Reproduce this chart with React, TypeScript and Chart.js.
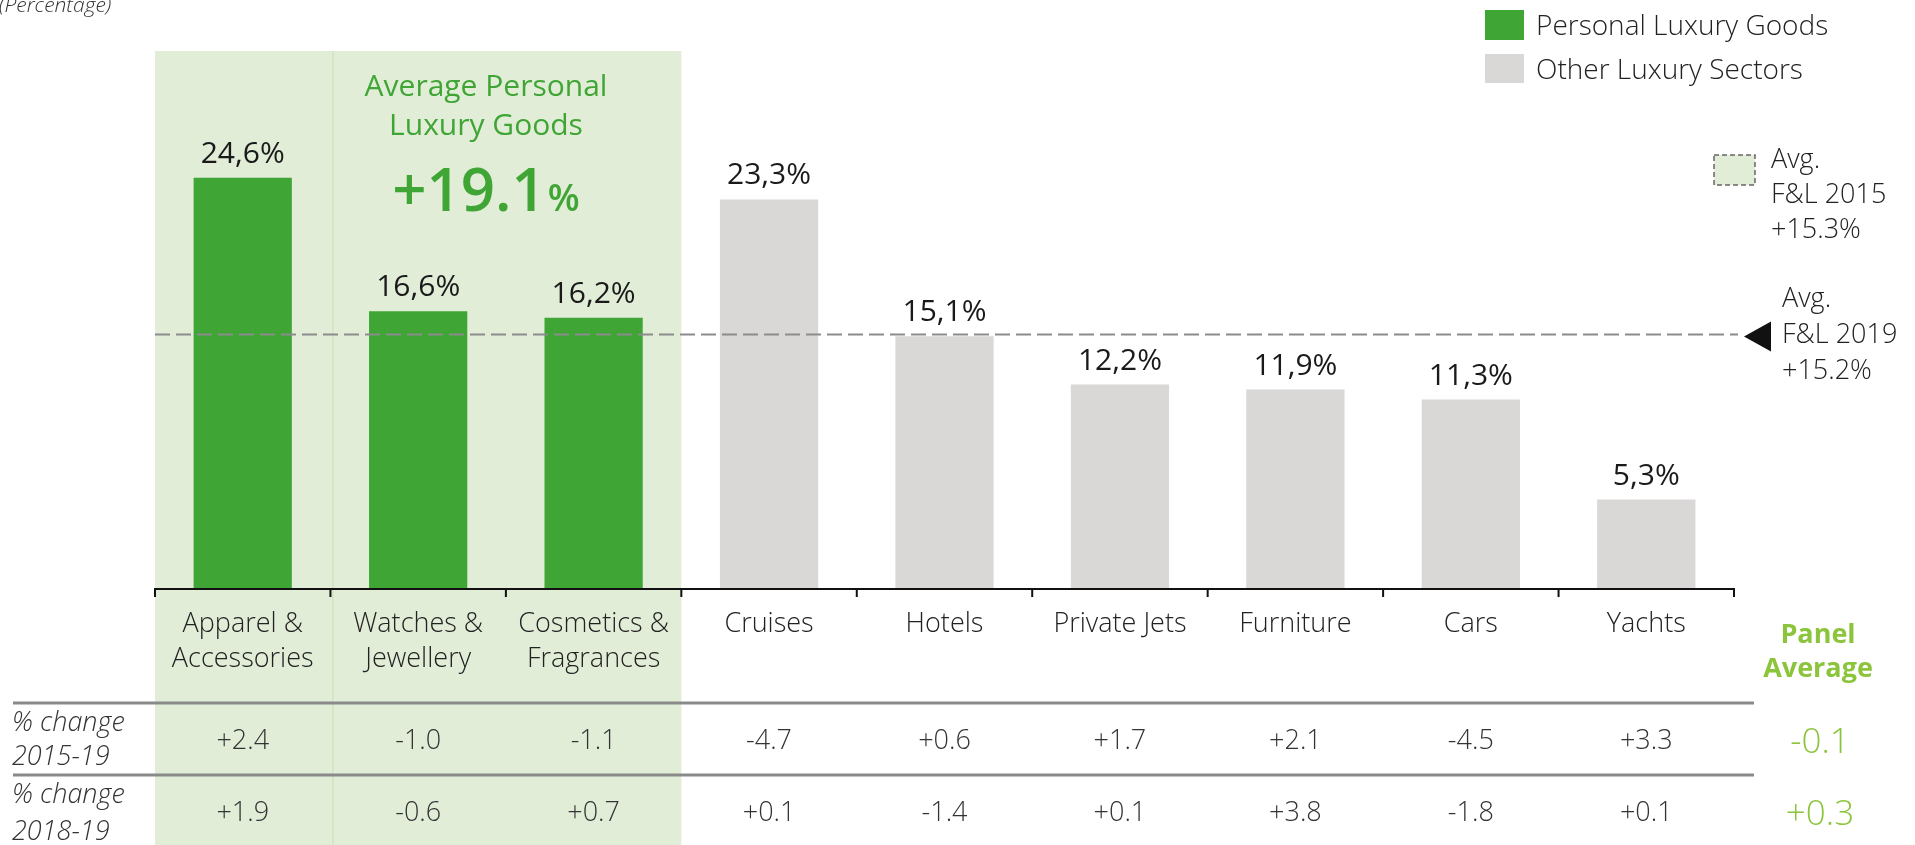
import React, { useEffect, useRef } from "react";
import { Chart, registerables } from "chart.js";

Chart.register(...registerables);

const categories: string[][] = [
  ["Apparel &", "Accessories"],
  ["Watches &", "Jewellery"],
  ["Cosmetics &", "Fragrances"],
  ["Cruises"],
  ["Hotels"],
  ["Private Jets"],
  ["Furniture"],
  ["Cars"],
  ["Yachts"],
];
const values: number[] = [24.6, 16.6, 16.2, 23.3, 15.1, 12.2, 11.9, 11.3, 5.3];
const isPersonal: boolean[] = [true, true, true, false, false, false, false, false, false];
const change2015: string[] = ["+2.4", "-1.0", "-1.1", "-4.7", "+0.6", "+1.7", "+2.1", "-4.5", "+3.3"];
const change2018: string[] = ["+1.9", "-0.6", "+0.7", "+0.1", "-1.4", "+0.1", "+3.8", "-1.8", "+0.1"];
const rowLabels: string[][] = [["% change", "2015-19"], ["% change", "2018-19"]];
const panelAverage: string[] = ["-0.1", "+0.3"];
const avgFL2019 = 15.2;
const avgFL2015Label = ["Avg.", "F&L 2015", "+15.3%"];
const avgFL2019Label = ["Avg.", "F&L 2019", "+15.2%"];
const personalAverage = "+19.1";
const legendLabels = ["Personal Luxury Goods", "Other Luxury Sectors"];

const GREEN = "#3fa535";
const GREY = "#d9d8d7";
const BG = "#e2edd8";
const LIME = "#8cc43c";
const FONT = "'Open Sans', sans-serif";

const W = 1915;
const H = 845;

const overlay = {
  id: "overlay",
  beforeDatasetsDraw(chart: any) {
    const { ctx, chartArea } = chart;
    const xs = chart.scales.x;
    const step = xs.getPixelForValue(1) - xs.getPixelForValue(0);
    const b = (i: number) => xs.getPixelForValue(i) - step / 2;
    ctx.save();
    ctx.fillStyle = BG;
    ctx.fillRect(b(0), chartArea.top, b(3) - b(0), H - chartArea.top);
    ctx.strokeStyle = "#c8dfb4";
    ctx.lineWidth = 1;
    ctx.beginPath();
    ctx.moveTo(b(1) + 2.5, chartArea.top);
    ctx.lineTo(b(1) + 2.5, H);
    ctx.stroke();
    ctx.restore();
  },
  afterDatasetsDraw(chart: any) {
    const { ctx, chartArea } = chart;
    const xs = chart.scales.x;
    const ys = chart.scales.y;
    const step = xs.getPixelForValue(1) - xs.getPixelForValue(0);
    const b = (i: number) => xs.getPixelForValue(i) - step / 2;
    ctx.save();

    // (Percentage)
    ctx.fillStyle = "#333";
    ctx.font = `italic 300 21px ${FONT}`;
    ctx.textAlign = "left";
    ctx.textBaseline = "alphabetic";
    ctx.fillText("(Percentage)", -1, 12);

    // value labels
    ctx.fillStyle = "#1a1a1a";
    ctx.font = `400 30px ${FONT}`;
    ctx.textAlign = "center";
    values.forEach((v, i) => {
      const x = xs.getPixelForValue(i);
      const y = ys.getPixelForValue(v);
      ctx.fillText(v.toFixed(1).replace(".", ",") + "%", x, y - 15);
    });

    // average personal luxury goods
    const cx = 486;
    ctx.fillStyle = GREEN;
    ctx.font = `400 30px ${FONT}`;
    ctx.fillText("Average Personal", cx, 96);
    ctx.fillText("Luxury Goods", cx, 135);
    ctx.font = `600 60px ${FONT}`;
    const bigW = ctx.measureText(personalAverage).width;
    ctx.font = `600 37px ${FONT}`;
    const pctW = ctx.measureText("%").width;
    const gap = 2;
    const start = cx - (bigW + pctW + gap) / 2;
    ctx.textAlign = "left";
    ctx.font = `600 60px ${FONT}`;
    ctx.fillText(personalAverage, start, 211);
    ctx.font = `600 37px ${FONT}`;
    ctx.fillText("%", start + bigW + gap, 211);

    // dashed avg line
    const yAvg = ys.getPixelForValue(avgFL2019);
    ctx.strokeStyle = "#8c8c8c";
    ctx.lineWidth = 2;
    ctx.setLineDash([15, 6]);
    ctx.beginPath();
    ctx.moveTo(chartArea.left, yAvg);
    ctx.lineTo(1738, yAvg);
    ctx.stroke();
    ctx.setLineDash([]);

    // triangle marker
    ctx.fillStyle = "#111";
    ctx.beginPath();
    ctx.moveTo(1744, yAvg + 2);
    ctx.lineTo(1771, yAvg - 13);
    ctx.lineTo(1771, yAvg + 17);
    ctx.closePath();
    ctx.fill();

    ctx.fillStyle = "#222";
    ctx.font = `300 27px ${FONT}`;
    ctx.textAlign = "left";
    avgFL2019Label.forEach((t, i) => ctx.fillText(t, 1782, 307 + i * 36));

    // dashed box legend
    ctx.fillStyle = BG;
    ctx.fillRect(1714, 155, 41, 30);
    ctx.strokeStyle = "#666";
    ctx.lineWidth = 1.5;
    ctx.setLineDash([5, 3]);
    ctx.strokeRect(1714, 155, 41, 30);
    ctx.setLineDash([]);
    ctx.fillStyle = "#222";
    avgFL2015Label.forEach((t, i) => ctx.fillText(t, 1771, 168 + i * 35));

    // legend
    ctx.fillStyle = GREEN;
    ctx.fillRect(1485, 10, 39, 30);
    ctx.fillStyle = GREY;
    ctx.fillRect(1485, 54, 39, 29);
    ctx.fillStyle = "#222";
    ctx.font = `300 28px ${FONT}`;
    ctx.fillText(legendLabels[0], 1536, 35);
    ctx.fillText(legendLabels[1], 1536, 79);

    // axis line + ticks
    const yBase = ys.getPixelForValue(0);
    ctx.strokeStyle = "#111";
    ctx.lineWidth = 2;
    ctx.beginPath();
    ctx.moveTo(b(0), yBase + 1);
    ctx.lineTo(b(values.length), yBase + 1);
    for (let i = 0; i <= values.length; i++) {
      ctx.moveTo(b(i), yBase);
      ctx.lineTo(b(i), yBase + 9);
    }
    ctx.stroke();

    // category labels
    ctx.fillStyle = "#222";
    ctx.font = `300 27px ${FONT}`;
    ctx.textAlign = "center";
    categories.forEach((lines, i) => {
      const x = xs.getPixelForValue(i);
      lines.forEach((t, j) => ctx.fillText(t, x, 632 + j * 35));
    });

    // panel average header
    ctx.fillStyle = LIME;
    ctx.font = `700 27px ${FONT}`;
    ctx.fillText("Panel", 1818, 643);
    ctx.fillText("Average", 1818, 677);

    // table lines
    ctx.strokeStyle = "#8a8a8a";
    ctx.lineWidth = 3;
    ctx.beginPath();
    ctx.moveTo(13, 703);
    ctx.lineTo(1754, 703);
    ctx.moveTo(13, 775);
    ctx.lineTo(1754, 775);
    ctx.stroke();

    // row labels
    ctx.fillStyle = "#333";
    ctx.font = `italic 300 27px ${FONT}`;
    ctx.textAlign = "left";
    ctx.fillText(rowLabels[0][0], 12, 731);
    ctx.fillText(rowLabels[0][1], 12, 765);
    ctx.fillText(rowLabels[1][0], 12, 803);
    ctx.fillText(rowLabels[1][1], 12, 840);

    // row values
    ctx.font = `300 27px ${FONT}`;
    ctx.textAlign = "center";
    ctx.fillStyle = "#333";
    change2015.forEach((t, i) => ctx.fillText(t, xs.getPixelForValue(i), 749));
    change2018.forEach((t, i) => ctx.fillText(t, xs.getPixelForValue(i), 821));

    ctx.fillStyle = LIME;
    ctx.font = `300 35px ${FONT}`;
    ctx.fillText(panelAverage[0], 1820, 753);
    ctx.fillText(panelAverage[1], 1820, 825);

    ctx.restore();
  },
};

export default function App() {
  const ref = useRef<HTMLCanvasElement | null>(null);
  useEffect(() => {
    if (!ref.current) return;
    const chart = new Chart(ref.current, {
      type: "bar",
      data: {
        labels: categories.map((c) => c.join(" ")),
        datasets: [
          {
            data: values,
            backgroundColor: isPersonal.map((p) => (p ? GREEN : GREY)),
            barPercentage: 0.56,
            categoryPercentage: 1,
          },
        ],
      },
      options: {
        animation: false,
        responsive: false,
        devicePixelRatio: 1,
        layout: { padding: { left: 155, right: 181, top: 51, bottom: 257 } },
        plugins: { legend: { display: false }, tooltip: { enabled: false } },
        scales: {
          x: { display: false },
          y: { display: false, min: 0, max: 32.2 },
        },
      },
      plugins: [overlay],
    });
    return () => chart.destroy();
  }, []);
  return (
    <div style={{ position: "fixed", left: 0, top: 0, width: W, height: H, background: "#fff" }}>
      <canvas ref={ref} width={W} height={H} style={{ width: W, height: H }} />
    </div>
  );
}
